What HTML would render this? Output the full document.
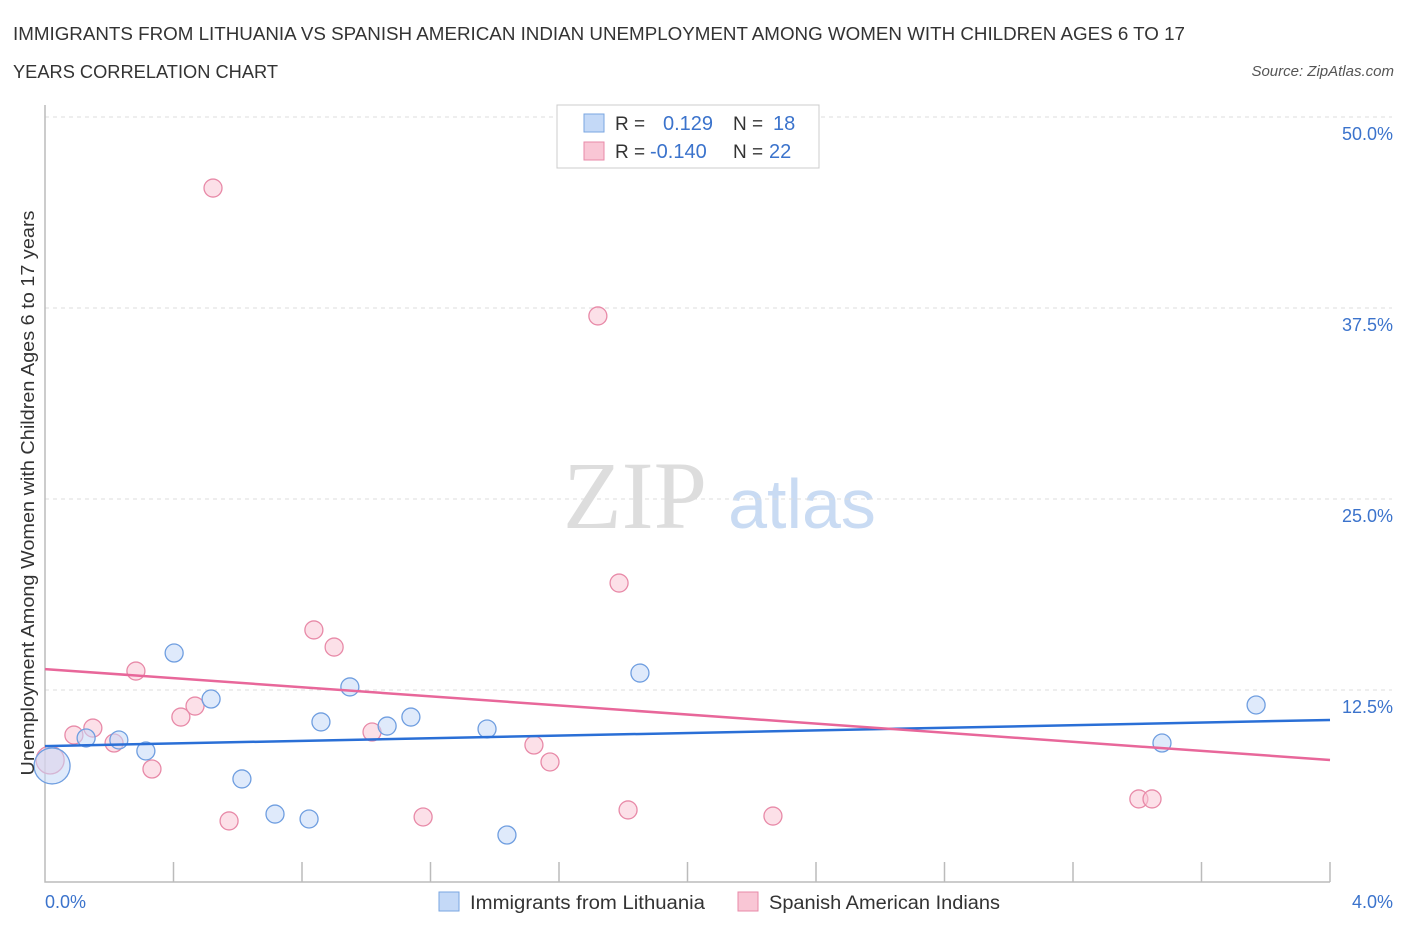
<!DOCTYPE html>
<html><head><meta charset="utf-8"><style>
body{margin:0;background:#fff;font-family:"Liberation Sans",sans-serif;}
#c{position:absolute;left:0;top:0;}
</style></head><body>
<svg id="c" width="1406" height="930">
<text x="13" y="40" font-size="18" fill="#333" textLength="1172" lengthAdjust="spacingAndGlyphs">IMMIGRANTS FROM LITHUANIA VS SPANISH AMERICAN INDIAN UNEMPLOYMENT AMONG WOMEN WITH CHILDREN AGES 6 TO 17</text>
<text x="13" y="78" font-size="18" fill="#333" textLength="265" lengthAdjust="spacingAndGlyphs">YEARS CORRELATION CHART</text>
<text x="1394" y="76" font-size="15" fill="#555" font-style="italic" text-anchor="end">Source: ZipAtlas.com</text>
<text x="635" y="528" font-size="96" fill="#ddd" font-family="Liberation Serif,serif" text-anchor="middle">ZIP</text>
<text x="802" y="528" font-size="70" fill="#c9dbf3" text-anchor="middle">atlas</text>
<g id="grid"></g>
<g id="axes"></g>
<g id="marks"></g>
<text x="34" y="493" font-size="18" fill="#333" text-anchor="middle" textLength="565" lengthAdjust="spacingAndGlyphs" transform="rotate(-90 34 493)">Unemployment Among Women with Children Ages 6 to 17 years</text>
<text x="45" y="908" font-size="18" fill="#3b73cc">0.0%</text>
<text x="1393" y="908" font-size="18" fill="#3b73cc" text-anchor="end">4.0%</text>
<g>
<rect x="557" y="105" width="262" height="63" fill="#fff" stroke="#ccc"/>
<rect x="584" y="114" width="20" height="18" fill="#c4d9f7" stroke="#7aa6e0"/>
<rect x="584" y="142" width="20" height="18" fill="#f9c6d5" stroke="#e88aa8"/>
<text x="615" y="130" font-size="19" fill="#333">R = </text><text x="663" y="130" font-size="20" fill="#3b73cc">0.129</text>
<text x="733" y="130" font-size="19" fill="#333">N = </text><text x="773" y="130" font-size="20" fill="#3b73cc">18</text>
<text x="615" y="158" font-size="19" fill="#333">R = </text><text x="650" y="158" font-size="20" fill="#3b73cc">-0.140</text>
<text x="733" y="158" font-size="19" fill="#333">N = </text><text x="769" y="158" font-size="20" fill="#3b73cc">22</text>
</g>
<g>
<rect x="439" y="892" width="20" height="19" fill="#c4d9f7" stroke="#7aa6e0"/>
<text x="470" y="909" font-size="19" fill="#333" textLength="235" lengthAdjust="spacingAndGlyphs">Immigrants from Lithuania</text>
<rect x="738" y="892" width="20" height="19" fill="#f9c6d5" stroke="#e88aa8"/>
<text x="769" y="909" font-size="19" fill="#333" textLength="231" lengthAdjust="spacingAndGlyphs">Spanish American Indians</text>
</g>
</svg>
<script>
const yTicks=[12.5,25.0,37.5,50.0];
const yTickLabels=["12.5%","25.0%","37.5%","50.0%"];
const blueX=[0.022,0.128,0.230,0.314,0.402,0.517,0.613,0.716,0.822,0.859,0.949,1.065,1.139,1.376,1.438,1.852,3.477,3.770];
const blueY=[7.53,9.36,9.23,8.51,14.92,11.91,6.68,4.38,4.06,10.41,12.70,10.14,10.73,9.95,3.01,13.61,9.03,11.52];
const blueR=[18,9,9,9,9,9,9,9,9,9,9,9,9,9,9,9,9,9];
const pinkX=[0.016,0.090,0.149,0.215,0.283,0.333,0.423,0.467,0.523,0.573,0.837,0.900,1.018,1.177,1.522,1.572,1.721,1.787,1.815,2.266,3.405,3.446];
const pinkY=[7.92,9.55,10.01,9.03,13.74,7.33,10.73,11.45,45.35,3.93,16.43,15.31,9.75,4.19,8.90,7.79,36.98,19.50,4.65,4.25,5.37,5.37];
const pinkR=[14,9,9,9,9,9,9,9,9,9,9,9,9,9,9,9,9,9,9,9,9,9];
const blueTrend=[8.83,10.54];
const pinkTrend=[13.87,7.92];
const NS="http://www.w3.org/2000/svg";
const X=v=>45+v*321.25, Y=v=>881-v*191/12.5;
function mk(t,a,p){const e=document.createElementNS(NS,t);for(const k in a)e.setAttribute(k,a[k]);p.appendChild(e);return e;}
const grid=document.getElementById('grid'),axes=document.getElementById('axes'),marks=document.getElementById('marks');
yTicks.forEach((t,i)=>{
 const l=mk('line',{x1:45,x2:1392,y1:Y(t),y2:Y(t),stroke:'#ddd','stroke-dasharray':'4,4'},grid);
 
 
 const tx=mk('text',{x:1393,y:Y(t)+23,'font-size':18,fill:'#3b73cc','text-anchor':'end'},grid);
 tx.textContent=yTickLabels[i];
 
 
});
const ax=mk('path',{d:'M45 105 V882 H1330',fill:'none',stroke:'#bbb','stroke-width':1.5},axes);


for(let i=1;i<=10;i++){
 const t=mk('line',{x1:X(i*0.4),x2:X(i*0.4),y1:862,y2:882,stroke:'#bbb','stroke-width':1.5},axes);
 
 
}
function pts(xs,ys,rs,fill,stroke,name){
 xs.forEach((x,i)=>{
  const c=mk('circle',{cx:X(x),cy:Y(ys[i]),r:rs[i],fill:fill,'fill-opacity':0.55,stroke:stroke,'stroke-width':1.3},marks);
  
  
 });
}
pts(pinkX,pinkY,pinkR,'#f9c6d5','#e88aa8','spanish-point');
pts(blueX,blueY,blueR,'#c4d9f7','#6f9ee0','lithuania-point');
const bl=mk('line',{x1:X(0),x2:X(4),y1:Y(blueTrend[0]),y2:Y(blueTrend[1]),stroke:'#2a6fd6','stroke-width':2.5},marks);


const pl=mk('line',{x1:X(0),x2:X(4),y1:Y(pinkTrend[0]),y2:Y(pinkTrend[1]),stroke:'#e8679a','stroke-width':2.5},marks);


</script>
</body></html>
